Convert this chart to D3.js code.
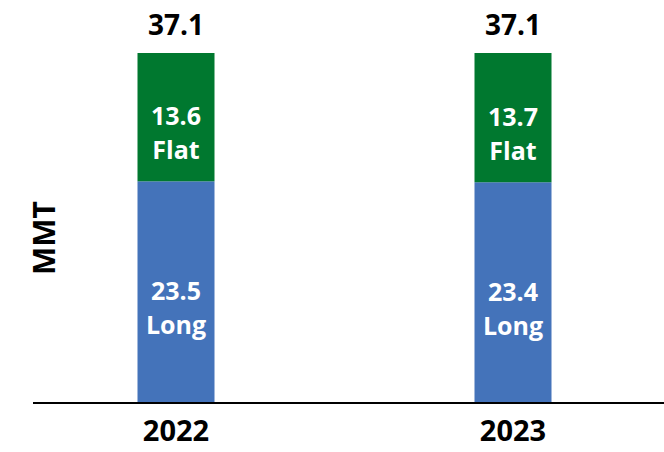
<!DOCTYPE html>
<html>
<head>
<meta charset="utf-8">
<script src="https://cdn.jsdelivr.net/npm/d3@7"></script>
<style>
  html, body { margin: 0; padding: 0; background: #fff; }
  svg { display: block; }
  text { font-family: "Open Sans", "Noto Sans", sans-serif; font-weight: 700; }
</style>
</head>
<body>
<div id="chart"></div>
<script>
// Shipments by year, split into long and flat products (MMT)
const years = ["2022", "2023"];
const longValues = [23.5, 23.4];
const flatValues = [13.6, 13.7];
const totals = [37.1, 37.1];
const seriesNames = ["Long", "Flat"];
const yAxisTitle = "MMT";

const width = 664, height = 452;
const baseY = 403, topY = 53;
const barWidth = 77;
const colors = { Long: "#4473BA", Flat: "#00782F" };

const svg = d3.select("#chart").append("svg")
  .attr("width", width).attr("height", height);

const x = d3.scalePoint().domain(years).range([176, 513]);
const y = d3.scaleLinear().domain([0, d3.max(totals)]).range([baseY, topY]);

// stacked data: Long at the bottom, Flat on top
const rows = years.map((yr, i) => ({ year: yr, Long: longValues[i], Flat: flatValues[i], total: totals[i] }));
const stack = d3.stack().keys(seriesNames)(rows);

const layers = svg.selectAll("g.layer").data(stack).join("g")
  .attr("class", "layer")
  .attr("fill", d => colors[d.key]);

layers.selectAll("rect").data(d => d.map(p => ({ ...p, key: d.key }))).join("rect")
  .attr("x", d => x(d.data.year) - barWidth / 2)
  .attr("width", barWidth)
  .attr("y", d => y(d[1]))
  .attr("height", d => y(d[0]) - y(d[1]));

// value + series name inside each segment, sitting a little below centre
layers.selectAll("text.seg").data(d => d.map(p => ({ ...p, key: d.key }))).join("text")
  .attr("class", "seg")
  .attr("text-anchor", "middle")
  .attr("fill", "#fff")
  .attr("font-size", 25)
  .each(function (d) {
    const cx = x(d.data.year);
    const cy = (y(d[0]) + y(d[1])) / 2 + 12;
    const t = d3.select(this);
    t.append("tspan").attr("x", cx).attr("y", cy - 4).text((d[1] - d[0]).toFixed(1));
    t.append("tspan").attr("x", cx).attr("y", cy + 30).text(d.key);
  });

// totals above each bar
svg.selectAll("text.total").data(rows).join("text")
  .attr("class", "total")
  .attr("x", d => x(d.year))
  .attr("y", d => y(d.total) - 18)
  .attr("text-anchor", "middle")
  .attr("font-size", 28)
  .attr("fill", "#000")
  .text(d => d.total.toFixed(1));

// baseline axis with year labels
const xAxis = svg.append("g").attr("transform", `translate(0,${baseY})`);
xAxis.append("line")
  .attr("x1", 33).attr("x2", width)
  .attr("stroke", "#000").attr("stroke-width", 2);
xAxis.selectAll("text").data(years).join("text")
  .attr("x", d => x(d))
  .attr("y", 38)
  .attr("text-anchor", "middle")
  .attr("font-size", 29)
  .attr("fill", "#000")
  .text(d => d);

// y axis title
svg.append("text")
  .attr("transform", "translate(55,238) rotate(-90)")
  .attr("text-anchor", "middle")
  .attr("font-size", 30)
  .attr("fill", "#000")
  .text(yAxisTitle);
</script>
</body>
</html>
